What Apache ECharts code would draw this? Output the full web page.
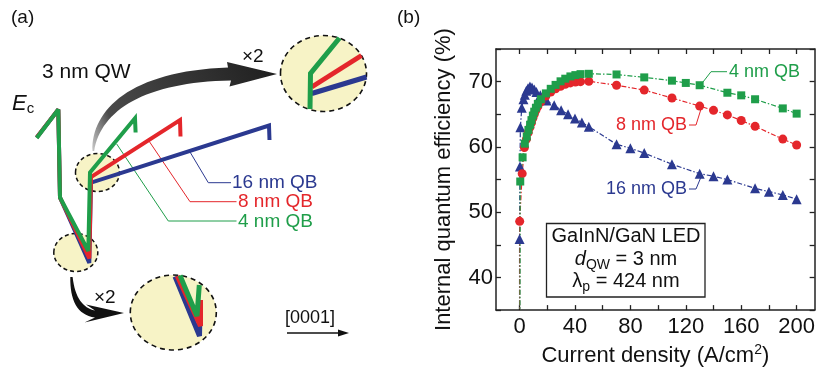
<!DOCTYPE html>
<html>
<head>
<meta charset="utf-8">
<script src="https://cdn.jsdelivr.net/npm/echarts@6/dist/echarts.min.js"></script>
<style>
  html, body { margin: 0; padding: 0; background: #fff; }
  #main { width: 818px; height: 374px; }
</style>
</head>
<body>
<div id="main"></div>
<script>
// ---- data (b): IQE vs current density ----
var qb4J   = [0, 0.5, 2.2, 3.8, 5.2, 6.4, 7.6, 8.6, 9.6, 10.6, 11.8, 13.2, 15.4, 19, 22.5, 26, 29.6, 33, 36.7, 40.3, 44, 50, 70, 90, 110, 120, 130, 150, 160, 170, 190, 200];
var qb4Iqe = [10, 54.7, 58.4, 60.5, 61.6, 62.6, 63.4, 64.1, 64.8, 65.4, 66.0, 66.6, 67.3, 68.2, 68.9, 69.5, 70.05, 70.45, 70.8, 71.0, 71.15, 71.2, 71.1, 70.65, 70.15, 69.8, 69.45, 68.3, 67.9, 67.3, 65.9, 65.1];
var qb8J   = [0, 0.1, 1.9, 3.5, 5, 6.3, 7.5, 8.6, 9.6, 10.6, 11.8, 13.2, 15.4, 19, 22.5, 26, 29.6, 33, 36.7, 40.3, 44, 50, 70, 90, 110, 130, 140, 150, 160, 170, 190, 200];
var qb8Iqe = [10, 48.6, 55.9, 59.9, 61.2, 62.2, 63.0, 63.7, 64.4, 65.0, 65.6, 66.2, 66.9, 67.8, 68.4, 68.9, 69.3, 69.6, 69.8, 69.95, 70.0, 70.05, 69.45, 68.7, 67.5, 66.25, 65.6, 64.9, 64.05, 63.15, 61.2, 60.3];
var qb16J   = [0, 0, 0.3, 0.6, 1.6, 2.8, 3.8, 4.9, 6.1, 7.5, 9, 10.6, 12.2, 15, 19.5, 25, 30, 35, 40, 45, 50, 70, 80, 90, 110, 130, 140, 150, 170, 180, 190, 200];
var qb16Iqe = [10, 45.9, 57, 63.0, 66.0, 67.3, 68.0, 68.6, 69.0, 69.25, 69.1, 68.8, 68.4, 67.9, 67.1, 66.4, 65.6, 65.0, 64.35, 63.75, 63.1, 60.4, 59.8, 59.05, 57.35, 55.9, 55.5, 55.0, 53.65, 53.15, 52.65, 52.0];
var xLabels = [0, 40, 80, 120, 160, 200];
var xTicks = [0, 20, 40, 60, 80, 100, 120, 140, 160, 180, 200];

// ---- schematic (a): conduction band profiles, panel units ----
var bandBlue  = [[36.7,137.5],[58.3,109.5],[60,197.5],[89.3,263],[91,182.7],[269,125.5],[269.5,140]];
var bandRed   = [[36.7,137.5],[58.3,109.5],[60,197.5],[89.3,258.5],[91,177],[180,120],[180.5,136.5]];
var bandGreen = [[36.7,138],[58.3,109.5],[60,197.5],[88.3,251],[90,172.5],[135,118.3],[135.6,132.5]];
var zoomTopBlue  = [[311.7,93.5],[366.5,77]];
var zoomTopRed   = [[311.7,87],[361.5,55.5]];
var zoomTopGreen = [[310,109],[310.5,73.5],[339.5,38]];
var zoomBotBlue  = [[175,276.5],[199.5,336],[200,312]];
var zoomBotRed   = [[177.3,276],[200.5,326],[200.5,300]];
var zoomBotGreen = [[180,275.5],[197,316],[199.3,285]];

var GREEN = '#1f9e4a', RED = '#e4262b', BLUE = '#2b3990';
var FONT = "'Liberation Sans', Arial, sans-serif";

function zip(a, b) { return a.map(function (v, i) { return [v, b[i]]; }); }

// curved arrows of the schematic as svg paths
echarts.graphic.registerShape('bigArrow', echarts.graphic.extendPath(
  'M92.5 151 C91.5 110 130 71 228 67.5 L227 62 L277 74 L229.5 86.5 L231 80.5 C145 82 101 110 94.2 151 Z', {}));
echarts.graphic.registerShape('smallArrow', echarts.graphic.extendPath(
  'M70.3 277 C70 300 77 315 95 317.5 L84.5 322.5 L124 313 L86 304.5 L95 310.5 C83 308 75 298 72.6 277 Z', {}));

var chart = echarts.init(document.getElementById('main'));

function curve(name, x, y, color, symbol, size) {
  return {
    name: name, type: 'line', xAxisIndex: 0, yAxisIndex: 0,
    data: zip(x, y), symbol: symbol, symbolSize: size, clip: true,
    itemStyle: { color: color },
    lineStyle: { color: color, width: 1.2, type: [5, 2, 1.5, 2] },
    animation: false
  };
}
function band(data, color, w) {
  return {
    type: 'line', xAxisIndex: 2, yAxisIndex: 2, data: data, symbol: 'none',
    lineStyle: { color: color, width: w, join: 'miter', miterLimit: 3 }, clip: false, animation: false
  };
}

var axisLine = { show: true, onZero: false, lineStyle: { color: '#222', width: 1.5 } };
var tickStyle = { lineStyle: { color: '#222', width: 1.3 } };

var option = {
  backgroundColor: '#fff',
  animation: false,
  grid: [
    { left: 496, top: 49, width: 324, height: 264 },
    { left: 0, top: 0, width: 410, height: 374 }
  ],
  xAxis: [
    {
      type: 'value', gridIndex: 0, min: -17, max: 213, position: 'bottom',
      axisLine: axisLine, splitLine: { show: false },
      axisTick: Object.assign({ inside: true, length: 5, customValues: xTicks }, tickStyle),
      axisLabel: { customValues: xLabels, fontSize: 22, color: '#111', fontFamily: FONT, margin: 6 },
      name: 'Current density (A/cm{sup|2})', nameLocation: 'middle', nameGap: 21,
      nameTextStyle: { fontSize: 22, color: '#111', fontFamily: FONT, lineHeight: 26,
        rich: { sup: { fontSize: 14, fontFamily: FONT, color: '#111', lineHeight: 15, verticalAlign: 'top' } } }
    },
    {
      type: 'value', gridIndex: 0, min: -17, max: 213, position: 'top',
      axisLine: axisLine, splitLine: { show: false },
      axisTick: Object.assign({ inside: true, length: 5, customValues: xTicks }, tickStyle),
      axisLabel: { show: false }
    },
    { type: 'value', gridIndex: 1, min: 0, max: 410, show: false }
  ],
  yAxis: [
    {
      type: 'value', gridIndex: 0, min: 35, max: 75, interval: 5, position: 'left',
      axisLine: axisLine, splitLine: { show: false },
      axisTick: Object.assign({ inside: true, length: 5 }, tickStyle),
      axisLabel: { fontSize: 22, color: '#111', fontFamily: FONT, margin: 3,
        formatter: function (v) { return v % 10 === 0 ? String(v) : ''; } },
      name: 'Internal quantum efficiency (%)', nameLocation: 'middle', nameGap: 41,
      nameTextStyle: { fontSize: 22, color: '#111', fontFamily: FONT }
    },
    {
      type: 'value', gridIndex: 0, min: 35, max: 75, interval: 5, position: 'right',
      axisLine: axisLine, splitLine: { show: false },
      axisTick: Object.assign({ inside: true, length: 5 }, tickStyle),
      axisLabel: { show: false }
    },
    { type: 'value', gridIndex: 1, min: 0, max: 374, inverse: true, show: false }
  ],
  series: [
    curve('16 nm QB', qb16J, qb16Iqe, BLUE, 'triangle', 10),
    curve('8 nm QB', qb8J, qb8Iqe, RED, 'circle', 9),
    curve('4 nm QB', qb4J, qb4Iqe, GREEN, 'rect', 8),
    band(bandBlue, BLUE, 4),
    band(bandRed, RED, 4),
    band(bandGreen, GREEN, 4),
    band(zoomTopBlue, BLUE, 5),
    band(zoomTopRed, RED, 5),
    band(zoomTopGreen, GREEN, 5),
    band(zoomBotBlue, BLUE, 5),
    band(zoomBotRed, RED, 5),
    band(zoomBotGreen, GREEN, 5)
  ],
  graphic: [
    // panel labels
    { type: 'text', style: { text: '(a)', x: 11, y: 18, font: '19px ' + FONT, fill: '#111', textVerticalAlign: 'middle' } },
    { type: 'text', style: { text: '(b)', x: 397, y: 18, font: '19px ' + FONT, fill: '#111', textVerticalAlign: 'middle' } },

    // magnifier circles
    { type: 'ellipse', z: -1, shape: { cx: 97.5, cy: 172.5, rx: 22, ry: 19 }, style: { fill: '#f7f3c6', stroke: '#111', lineWidth: 1.5, lineDash: [4, 3] } },
    { type: 'ellipse', z: -1, shape: { cx: 75.8, cy: 252.5, rx: 22, ry: 19 }, style: { fill: '#f7f3c6', stroke: '#111', lineWidth: 1.5, lineDash: [4, 3] } },
    { type: 'ellipse', z: -1, shape: { cx: 323.5, cy: 73.5, rx: 43, ry: 38 }, style: { fill: '#f7f3c6', stroke: '#111', lineWidth: 1.6, lineDash: [5, 4] } },
    { type: 'ellipse', z: -1, shape: { cx: 173.3, cy: 312.5, rx: 43, ry: 37.5 }, style: { fill: '#f7f3c6', stroke: '#111', lineWidth: 1.6, lineDash: [5, 4] } },

    // curved arrows
    { type: 'bigArrow',
      style: { fill: { type: 'linear', x: 0, y: 1, x2: 1, y2: 0, colorStops: [{ offset: 0, color: '#c8c8c8' }, { offset: 0.15, color: '#4a4a4a' }, { offset: 1, color: '#1e1e1e' }] } } },
    { type: 'smallArrow', style: { fill: '#111' } },

    // texts (a)
    { type: 'text', style: { text: '3 nm QW', x: 42, y: 72, font: '21px ' + FONT, fill: '#111', textVerticalAlign: 'middle' } },
    { type: 'text', style: { text: '×2', x: 242, y: 57, font: '19px ' + FONT, fill: '#111', textVerticalAlign: 'middle' } },
    { type: 'text', style: { text: '×2', x: 94, y: 298, font: '19px ' + FONT, fill: '#111', textVerticalAlign: 'middle' } },
    { type: 'text', style: { text: '{e|E}{s|c}', x: 12, y: 104, textVerticalAlign: 'middle',
      rich: { e: { font: 'italic 22px ' + FONT, fill: '#111', lineHeight: 24, verticalAlign: 'middle' },
              s: { font: '15px ' + FONT, fill: '#111', lineHeight: 14, verticalAlign: 'bottom' } } } },
    { type: 'text', style: { text: '[0001]', x: 285, y: 318, font: '18px ' + FONT, fill: '#111', textVerticalAlign: 'middle' } },
    { type: 'polyline', shape: { points: [[287, 333], [341, 333]] }, style: { stroke: '#111', lineWidth: 1.3 } },
    { type: 'polygon', shape: { points: [[338, 329.5], [349, 333], [338, 336.5]] }, style: { fill: '#111' } },

    // leaders (a)
    { type: 'polyline', shape: { points: [[190, 152], [208.3, 182.7], [231, 182.7]] }, style: { stroke: BLUE, lineWidth: 1, fill: null } },
    { type: 'polyline', shape: { points: [[148.3, 140], [190, 201.7], [236.5, 201.7]] }, style: { stroke: RED, lineWidth: 1, fill: null } },
    { type: 'polyline', shape: { points: [[116.7, 144], [168.3, 221], [236.5, 221]] }, style: { stroke: GREEN, lineWidth: 1, fill: null } },
    { type: 'text', style: { text: '16 nm QB', x: 232, y: 182.5, font: '19px ' + FONT, fill: BLUE, textVerticalAlign: 'middle' } },
    { type: 'text', style: { text: '8 nm QB', x: 238, y: 201.7, font: '19px ' + FONT, fill: RED, textVerticalAlign: 'middle' } },
    { type: 'text', style: { text: '4 nm QB', x: 238, y: 221.5, font: '19px ' + FONT, fill: GREEN, textVerticalAlign: 'middle' } },

    // annotations (b)
    { type: 'polyline', z: 10, shape: { points: [[703, 82], [711, 71.7], [727, 71.7]] }, style: { stroke: GREEN, lineWidth: 1, fill: null } },
    { type: 'text', z: 10, style: { text: '4 nm QB', x: 729, y: 71.7, font: '18px ' + FONT, fill: GREEN, textVerticalAlign: 'middle' } },
    { type: 'polyline', z: 10, shape: { points: [[701, 109], [696, 125], [689, 125]] }, style: { stroke: RED, lineWidth: 1, fill: null } },
    { type: 'text', z: 10, style: { text: '8 nm QB', x: 687, y: 125, font: '18px ' + FONT, fill: RED, textAlign: 'right', textVerticalAlign: 'middle' } },
    { type: 'polyline', z: 10, shape: { points: [[701, 177], [696, 189], [689, 189]] }, style: { stroke: BLUE, lineWidth: 1, fill: null } },
    { type: 'text', z: 10, style: { text: '16 nm QB', x: 687, y: 189, font: '18px ' + FONT, fill: BLUE, textAlign: 'right', textVerticalAlign: 'middle' } },

    // info box (b)
    { type: 'rect', z: 10, shape: { x: 546.5, y: 223.5, width: 158.5, height: 73.5 }, style: { fill: '#fff', stroke: '#222', lineWidth: 1.3 } },
    { type: 'text', z: 11, style: { text: 'GaInN/GaN LED', x: 626, y: 236.5, font: '20px ' + FONT, fill: '#111', textAlign: 'center', textVerticalAlign: 'middle' } },
    { type: 'text', z: 11, style: { text: '{i|d}{s|QW}{n| = 3 nm}', x: 626, y: 259, textAlign: 'center', textVerticalAlign: 'middle',
      rich: { i: { font: 'italic 20px ' + FONT, fill: '#111', lineHeight: 26, verticalAlign: 'middle' },
              s: { font: '14px ' + FONT, fill: '#111', lineHeight: 14, verticalAlign: 'bottom' },
              n: { font: '20px ' + FONT, fill: '#111', lineHeight: 26, verticalAlign: 'middle' } } } },
    { type: 'text', z: 11, style: { text: '{n|λ}{s|p}{n| = 424 nm}', x: 626, y: 281, textAlign: 'center', textVerticalAlign: 'middle',
      rich: { s: { font: '14px ' + FONT, fill: '#111', lineHeight: 14, verticalAlign: 'bottom' },
              n: { font: '20px ' + FONT, fill: '#111', lineHeight: 26, verticalAlign: 'middle' } } } }
  ]
};

chart.setOption(option);
</script>
</body>
</html>
